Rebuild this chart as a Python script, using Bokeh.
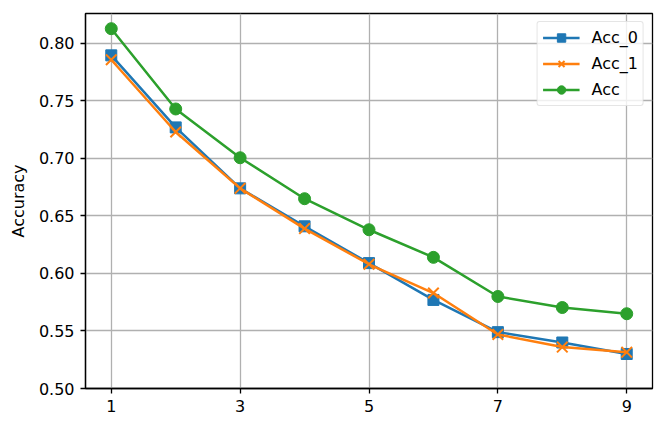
from bokeh.plotting import figure
from bokeh.models import Range1d, FixedTicker, NumeralTickFormatter, Legend, LegendItem
from bokeh.embed import file_html
from bokeh.resources import INLINE

x = [1, 2, 3, 4, 5, 6, 7, 8, 9]
acc_0 = [0.7896, 0.727, 0.674, 0.641, 0.609, 0.577, 0.549, 0.540, 0.530]
acc_1 = [0.7858, 0.723, 0.674, 0.639, 0.608, 0.583, 0.547, 0.536, 0.5316]
acc = [0.8128, 0.743, 0.7006, 0.665, 0.638, 0.614, 0.580, 0.5704, 0.565]
x_ticks = [1, 3, 5, 7, 9]
y_ticks = [0.50, 0.55, 0.60, 0.65, 0.70, 0.75, 0.80]

FONT = "DejaVu Sans"
FS = "16px"

p = figure(width=665, height=429, output_backend="svg", toolbar_location=None,
           x_range=Range1d(0.6, 9.4), y_range=Range1d(0.5, 0.826),
           min_border_left=85, min_border_right=13, min_border_top=13, min_border_bottom=41)
p.background_fill_color = "white"
p.border_fill_color = "white"
p.outline_line_color = "black"
p.outline_line_width = 1.3

for ax in (p.xaxis[0], p.yaxis[0]):
    ax.axis_line_width = 1.3
    ax.axis_line_color = "black"
    ax.major_tick_line_width = 1.3
    ax.major_tick_line_color = "black"
    ax.major_tick_out = 5
    ax.major_tick_in = 0
    ax.minor_tick_line_color = None
    ax.major_label_text_font = FONT
    ax.major_label_text_font_size = FS
    ax.major_label_text_color = "black"
    ax.major_label_standoff = 6

p.xaxis.ticker = FixedTicker(ticks=x_ticks)
p.yaxis.ticker = FixedTicker(ticks=y_ticks)
p.yaxis.formatter = NumeralTickFormatter(format="0.00")
p.yaxis.axis_label = "Accuracy"
p.yaxis.axis_label_text_font = FONT
p.yaxis.axis_label_text_font_size = FS
p.yaxis.axis_label_text_font_style = "normal"
p.yaxis.axis_label_text_color = "black"
p.yaxis.axis_label_standoff = 8

p.xgrid.ticker = FixedTicker(ticks=x_ticks)
p.ygrid.ticker = FixedTicker(ticks=y_ticks)
for g in (p.xgrid[0], p.ygrid[0]):
    g.grid_line_color = "#b0b0b0"
    g.grid_line_width = 1.3

c0, c1, c2 = "#1f77b4", "#ff7f0e", "#2ca02c"
l0 = p.line(x, acc_0, color=c0, line_width=2.5)
m0 = p.scatter(x, acc_0, marker="square", size=11, color=c0)
l1 = p.line(x, acc_1, color=c1, line_width=2.5)
m1 = p.scatter(x, acc_1, marker="x", size=15, line_color=c1, line_width=2)
l2 = p.line(x, acc, color=c2, line_width=2.5)
m2 = p.scatter(x, acc, marker="circle", size=12, color=c2)

legend = Legend(items=[
    LegendItem(label="Acc_0", renderers=[l0, m0]),
    LegendItem(label="Acc_1", renderers=[l1, m1]),
    LegendItem(label="Acc", renderers=[l2, m2]),
], location="top_right")
legend.margin = 8
legend.padding = 5
legend.spacing = 5
legend.glyph_width = 37
legend.glyph_height = 21
legend.label_height = 21
legend.label_standoff = 12
legend.label_text_font = FONT
legend.label_text_font_size = FS
legend.label_text_color = "black"
legend.border_line_color = "#cccccc"
legend.border_line_width = 1.3
legend.background_fill_alpha = 0.8
legend.border_radius = 3
p.add_layout(legend)

open("out.html", "w").write(file_html(p, INLINE))
